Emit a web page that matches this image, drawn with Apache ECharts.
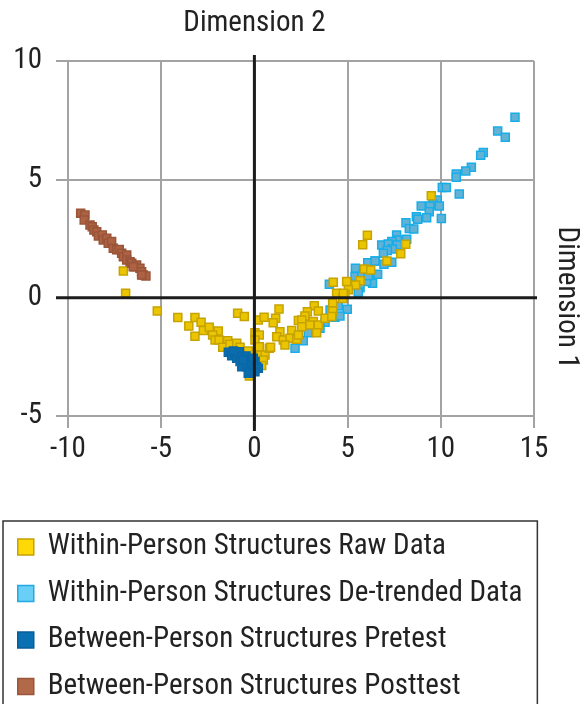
<!DOCTYPE html>
<html>
<head>
<meta charset="utf-8">
<script src="https://cdn.jsdelivr.net/npm/echarts@6/dist/echarts.min.js"></script>
<style>html,body{margin:0;padding:0;background:#fff}#c{width:581px;height:704px}</style>
</head>
<body>
<div id="c"></div>
<script>
var FONT = "'Roboto Condensed', 'DejaVu Sans Condensed', sans-serif";

var seriesNames = [
  'Within-Person Structures Raw Data',
  'Within-Person Structures De-trended Data',
  'Between-Person Structures Pretest',
  'Between-Person Structures Posttest'
];
var xAxisTitle = 'Dimension 1';
var yAxisTitle = 'Dimension 2';

var xTicks = [-10, -5, 0, 5, 10, 15];
var yTicks = [-5, 0, 5, 10];

var rawData = [
  [-7.03,1.13],[-6.91,0.19],[-5.21,-0.56],[-4.11,-0.84],[-3.19,-0.84],[-2.86,-1.04],[-3.52,-1.20],
  [-2.74,-1.39],[-2.42,-1.25],[-1.94,-1.41],[-3.19,-1.63],[-2.24,-1.58],[-2.11,-1.79],[-1.90,-1.79],
  [-1.43,-1.82],[-1.70,-2.10],[-1.31,-1.97],[-0.95,-1.93],[-0.77,-2.10],[-0.90,-0.66],[-0.54,-0.80],
  [0.03,-1.48],[0.21,-0.94],[0.52,-0.83],[0.26,-1.58],[0.03,-1.79],[0.21,-2.11],[-0.33,-2.25],
  [0.34,-2.42],[0.57,-2.42],[0.80,-2.14],[0.48,-2.63],[0.39,-2.87],[-0.27,-3.31],
  [6.06,2.64],[5.81,2.24],[4.23,0.65],[4.95,0.68],[5.90,1.21],[6.24,1.17],[5.67,0.72],[5.43,0.54],
  [5.04,0.33],[4.41,0.19],[4.86,0.16],[4.74,-0.03],[4.20,-0.21],[4.20,-0.56],[3.21,-0.34],[3.43,-0.56],
  [2.84,-0.60],[2.71,-0.77],[2.36,-0.97],[2.54,-0.94],[3.16,-1.01],[3.43,-1.15],[3.79,-0.87],[4.15,-0.80],
  [2.54,-1.23],[2.98,-1.15],[3.34,-1.48],[1.32,-0.48],[1.14,-0.87],[1.01,-1.06],[1.37,-1.44],
  [2.00,-1.39],[1.20,-1.65],[1.55,-1.79],[1.91,-1.72],[2.27,-1.76],[2.36,-1.58],[1.64,-2.00],
  [0.87,-2.10],[0.26,-2.07],[9.49,4.31],[8.12,2.26],[7.85,1.86],[7.11,1.55],[4.77,0.19]
];

var detrendedData = [
  [13.98,7.62],[13.05,7.04],[13.46,6.78],[12.28,6.13],[12.14,6.02],[11.64,5.51],[11.34,5.35],
  [10.83,5.23],[10.83,5.09],[10.08,4.65],[10.30,4.65],[10.99,4.38],[9.81,4.13],[9.57,3.96],
  [9.42,3.87],[9.92,3.87],[9.38,3.63],[8.95,3.87],[9.24,3.38],[8.69,3.42],[8.76,3.31],[10.03,3.34],
  [8.13,3.17],[8.31,2.92],[8.55,2.90],[7.63,2.65],[7.67,2.44],[7.37,2.37],[8.17,2.47],[6.83,2.23],
  [7.18,2.27],[7.67,2.23],[7.40,2.06],[7.13,1.99],[6.92,1.88],[7.37,1.50],[6.95,1.41],[6.49,1.55],
  [6.08,1.48],[5.42,1.24],[6.61,0.99],[6.34,0.61],[6.20,1.03],[5.40,0.89],[5.76,0.89],[6.02,0.68],
  [4.02,0.57],[5.67,0.42],[5.57,0.23],[4.77,-0.03],[4.98,-0.49],[4.50,-0.35],[4.06,-0.52],
  [4.32,-0.83],[4.59,-0.77],[3.79,-1.04],[3.52,-1.29],[2.89,-1.48],[2.62,-1.82],[2.18,-2.14],
  [6.11,0.93],[6.47,1.55]
];

var pretestData = [
  [-1.40,-2.31],[-1.22,-2.45],[-1.04,-2.35],[-0.81,-2.28],[-0.95,-2.56],[-0.68,-2.49],[-0.45,-2.46],
  [-0.77,-2.70],[-0.50,-2.70],[-0.33,-2.60],[-0.68,-2.92],[-0.41,-2.92],[-0.14,-2.84],[0.03,-2.70],
  [0.12,-2.92],[-0.24,-3.10],[-0.06,-3.05],[0.21,-2.98],[-0.33,-3.19],[-0.60,-2.63],[-1.13,-2.25],
  [-0.06,-2.56],[0.03,-3.13]
];

var posttestData = [
  [-9.32,3.57],[-9.09,3.49],[-9.13,3.28],[-8.82,3.07],[-8.70,3.00],[-8.61,2.86],[-8.46,2.79],
  [-8.37,2.61],[-8.16,2.65],[-8.11,2.44],[-7.92,2.51],[-7.84,2.30],[-7.66,2.37],[-7.57,2.09],
  [-7.39,2.02],[-7.25,2.04],[-7.12,1.88],[-7.03,1.73],[-6.85,1.80],[-6.85,1.59],[-6.67,1.52],
  [-6.58,1.45],[-6.41,1.31],[-6.32,1.38],[-6.14,1.24],[-6.05,1.10],[-5.96,0.96],[-5.82,0.92],
  [-6.05,0.96],[-6.50,1.31]
];

var chart = echarts.init(document.getElementById('c'), null, {renderer: 'canvas'});

function sc(name, data, fill, border, z) {
  return {
    name: name, type: 'scatter', data: data, symbol: 'rect', symbolSize: 8, z: z,
    itemStyle: {color: fill, borderColor: border, borderWidth: 1.5, opacity: 1},
    emphasis: {disabled: true}
  };
}

var series = [
  sc(seriesNames[1], detrendedData, '#62B2D6', '#17ADE9', 3),
  sc(seriesNames[0], rawData, '#EBC600', '#C6A300', 4),
  sc(seriesNames[2], pretestData, '#0B6CAE', '#0A68A6', 5),
  sc(seriesNames[3], posttestData, '#AE6244', '#9A5538', 6)
];

var legendIcons = [
  {color: '#FFD808', borderColor: '#C8A000'},
  {color: '#6ACFF6', borderColor: '#22A9E1'},
  {color: '#0A70B4', borderColor: '#085E99'},
  {color: '#B2694A', borderColor: '#9A5638'}
];

var gridColor = '#a3a3a3';

chart.setOption({
  animation: false,
  backgroundColor: '#ffffff',
  grid: {left: 68, top: 61, right: 47, bottom: 288, containLabel: false},
  xAxis: {
    type: 'value', min: xTicks[0], max: xTicks[xTicks.length - 1], interval: 5,
    axisLine: {show: true, onZero: false, lineStyle: {color: gridColor, width: 2}},
    axisTick: {show: true, length: 12, lineStyle: {color: gridColor, width: 2}},
    splitLine: {show: true, lineStyle: {color: gridColor, width: 2}},
    axisLabel: {color: '#222', fontFamily: FONT, fontSize: 29, margin: 19}
  },
  yAxis: {
    type: 'value', min: yTicks[0], max: yTicks[yTicks.length - 1], interval: 5,
    axisLine: {show: true, onZero: false, lineStyle: {color: gridColor, width: 2}},
    axisTick: {show: true, length: 12, lineStyle: {color: gridColor, width: 2}},
    splitLine: {show: true, lineStyle: {color: gridColor, width: 2}},
    axisLabel: {color: '#222', fontFamily: FONT, fontSize: 29, margin: 26}
  },
  legend: {
    data: seriesNames.map(function (n, i) {
      return {name: n, itemStyle: {color: legendIcons[i].color, borderColor: legendIcons[i].borderColor, borderWidth: 1.5}};
    }),
    orient: 'vertical', left: 3, top: 521, height: 400,
    icon: 'rect', itemWidth: 16, itemHeight: 16, itemGap: 16.5,
    padding: [11, 15, 40, 14],
    borderColor: '#333', borderWidth: 1.5,
    selectedMode: false,
    textStyle: {color: '#222', fontFamily: FONT, fontSize: 29, lineHeight: 30, padding: [0, 0, 0, 9]}
  },
  series: series
});

// Zero axes and axis titles, positioned through the chart's own scales
var top0 = chart.convertToPixel({gridIndex: 0}, [0, yTicks[yTicks.length - 1]]);
var bot0 = chart.convertToPixel({gridIndex: 0}, [0, yTicks[0]]);
var left0 = chart.convertToPixel({gridIndex: 0}, [xTicks[0], 0]);
var right0 = chart.convertToPixel({gridIndex: 0}, [xTicks[xTicks.length - 1], 0]);

chart.setOption({
  graphic: [
    {type: 'line', z: 50, silent: true,
      shape: {x1: top0[0], y1: top0[1] - 6, x2: bot0[0], y2: bot0[1] + 15},
      style: {stroke: '#1c1c1c', lineWidth: 3}},
    {type: 'line', z: 50, silent: true,
      shape: {x1: left0[0] - 12, y1: left0[1], x2: right0[0] + 3, y2: right0[1]},
      style: {stroke: '#1c1c1c', lineWidth: 3}},
    {type: 'text', z: 50, x: top0[0], y: 24, silent: true,
      style: {text: yAxisTitle, fontFamily: FONT, fontSize: 29, fill: '#222', align: 'center', verticalAlign: 'middle'}},
    {type: 'text', z: 50, x: 566, y: right0[1], rotation: -Math.PI / 2, silent: true,
      style: {text: xAxisTitle, fontFamily: FONT, fontSize: 29, fill: '#222', align: 'center', verticalAlign: 'middle'}}
  ]
});
</script>
</body>
</html>
